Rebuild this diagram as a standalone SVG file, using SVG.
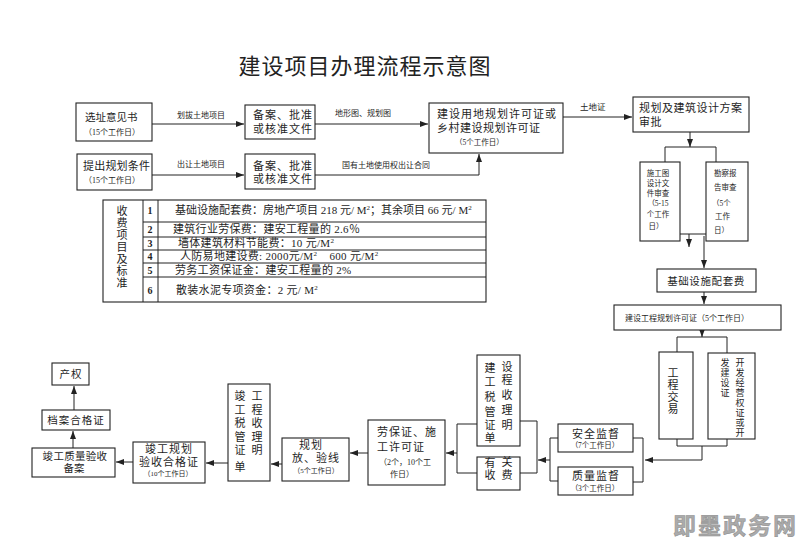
<svg xmlns="http://www.w3.org/2000/svg" width="800" height="542" viewBox="0 0 800 542">
<style>
text{font-family:"Liberation Serif","Noto Sans CJK SC",sans-serif;fill:#1e1e1e}
.b{fill:#fff;stroke:#222;stroke-width:1.1}
.c{fill:none;stroke:#222;stroke-width:1}
.c path{fill:none}
.m{font-size:11px;letter-spacing:1px}
.s{font-size:10.5px}
.r{font-size:11px;letter-spacing:0.3px}
.l{font-size:8px}
.d{font-size:7.5px}
.v{font-size:11px;text-anchor:middle}
.mid{text-anchor:middle}
.n{font-size:10px;font-weight:bold;text-anchor:middle}
.sup{font-size:7px}
.ttl{font-family:"Noto Sans CJK SC",sans-serif;font-size:22px;letter-spacing:1px;fill:#222}
.wm{font-family:"Noto Sans CJK SC",sans-serif;font-size:23px;font-weight:bold;fill:#ababab;stroke:#8a8a8a;stroke-width:0.5;letter-spacing:2px}
</style>
<defs>
<marker id="a" viewBox="0 0 8 6" refX="8" refY="3" markerWidth="8" markerHeight="6" markerUnits="userSpaceOnUse" orient="auto">
<path d="M0,0 L8,3 L0,6 Z" fill="#222"/>
</marker>
</defs>
<rect width="800" height="542" fill="#fff"/>
<text class="ttl" x="365" y="74" text-anchor="middle">建设项目办理流程示意图</text>

<g id="connectors" class="c">
<path d="M152,124 H244" marker-end="url(#a)"/>
<path d="M152,175 H244" marker-end="url(#a)"/>
<path d="M315,124 H428" marker-end="url(#a)"/>
<path d="M315,175 H479 V154" marker-end="url(#a)"/>
<path d="M563,117 H632" marker-end="url(#a)"/>
<path d="M690,132 V147" marker-end="url(#a)"/>
<path d="M665,162 V147 H716 V162"/>
<path d="M672,226 V234 H720 V226"/>
<path d="M689,234 V247" marker-end="url(#a)"/>
<path d="M704,236 V268" marker-end="url(#a)"/>
<path d="M704,292 V304" marker-end="url(#a)"/>
<path d="M702,330 V337" marker-end="url(#a)"/>
<path d="M677,352 V337 H727 V353"/>
<path d="M677,439 V446 H727 V439"/>
<path d="M702,446 V460 H645" marker-end="url(#a)"/>
<path d="M633,438 H643 V482 H633"/>
<path d="M558,438 H550 V481 H558"/>
<path d="M550,460 H538" marker-end="url(#a)"/>
<path d="M520,421 H537 V473 H520"/>
<path d="M477,424 H457 V473 H477"/>
<path d="M457,453 H446" marker-end="url(#a)"/>
<path d="M368,453 H350" marker-end="url(#a)"/>
<path d="M282,464 H271" marker-end="url(#a)"/>
<path d="M228,463 H206" marker-end="url(#a)"/>
<path d="M133,462 H116" marker-end="url(#a)"/>
<path d="M73,448 V431" marker-end="url(#a)"/>
<path d="M74,410 V386" marker-end="url(#a)"/>
</g>

<g id="labels">
<text class="l" x="177" y="118">划拔土地项目</text>
<text class="l" x="177" y="167">出让土地项目</text>
<text class="l" x="335" y="116">地形图、规划图</text>
<text class="l" x="342" y="168">国有土地使用权出让合同</text>
<text class="l" x="580" y="110" style="font-size:8.5px">土地证</text>
</g>

<g id="n1"><rect class="b" x="76" y="103" width="76" height="38"/>
<text class="s" x="85" y="121">选址意见书</text>
<text class="l" x="84" y="135">（15个工作日）</text></g>

<g id="n2"><rect class="b" x="245" y="105" width="70" height="34"/>
<text class="m" x="253" y="119">备案、批准</text>
<text class="m" x="253" y="133">或核准文件</text></g>

<g id="n3"><rect class="b" x="77" y="154" width="75" height="36"/>
<text class="m" x="83" y="170" style="letter-spacing:0.2px">提出规划条件</text>
<text class="l" x="84" y="183">（15个工作日）</text></g>

<g id="n4"><rect class="b" x="245" y="154" width="70" height="35"/>
<text class="m" x="253" y="170">备案、批准</text>
<text class="m" x="253" y="183">或核准文件</text></g>

<g id="n5"><rect class="b" x="429" y="103" width="134" height="50"/>
<text class="m" x="437" y="118">建设用地规划许可证或</text>
<text class="m" x="437" y="132" style="letter-spacing:0.5px">乡村建设规划许可证</text>
<text class="d" x="455" y="145">（5个工作日）</text></g>

<g id="n6"><rect class="b" x="633" y="97" width="116" height="35"/>
<text class="m" x="639" y="112" style="letter-spacing:0.5px">规划及建筑设计方案</text>
<text class="m" x="639" y="126" style="letter-spacing:0.5px">审批</text></g>

<g id="n7"><rect class="b" x="640" y="162" width="40" height="79"/>
<text class="d mid" x="658"><tspan x="658" y="176">施工图</tspan><tspan x="658" y="186">设计文</tspan><tspan x="658" y="196">件审查</tspan><tspan x="658" y="206">（5-15</tspan><tspan x="658" y="217">个工作</tspan><tspan x="656" y="229">日）</tspan></text></g>

<g id="n8"><rect class="b" x="706" y="162" width="42" height="79"/>
<text class="d" x="714"><tspan x="714" y="176">勘察报</tspan><tspan x="714" y="190">告审查</tspan><tspan x="712" y="206">（5个</tspan><tspan x="715" y="219">工作</tspan><tspan x="714" y="233">日）</tspan></text></g>

<g id="fees">
<rect class="b" x="103" y="200" width="383" height="102"/>
<path class="c" d="M143,200 V302 M158,200 V302 M143,222 H486 M143,237 H486 M143,250 H486 M143,263 H486 M143,277 H486"/>
<text class="v" x="122"><tspan x="122" y="215">收</tspan><tspan x="122" y="227">费</tspan><tspan x="122" y="239">项</tspan><tspan x="122" y="251">目</tspan><tspan x="122" y="263">及</tspan><tspan x="122" y="275">标</tspan><tspan x="122" y="287">准</tspan></text>
<text class="n" x="150" y="214">1</text>
<text class="n" x="150" y="233">2</text>
<text class="n" x="150" y="247">3</text>
<text class="n" x="150" y="260">4</text>
<text class="n" x="150" y="274">5</text>
<text class="n" x="150" y="294">6</text>
<text class="r" x="175" y="214" style="letter-spacing:0">基础设施配套费：房地产项目 218 元/ M<tspan class="sup" dy="-4">2</tspan><tspan dy="4">；其余项目 66 元/ M</tspan><tspan class="sup" dy="-4">2</tspan></text>
<text class="r" x="173" y="233">建筑行业劳保费：建安工程量的 2.6％</text>
<text class="r" x="178" y="247">墙体建筑材料节能费：10 元/M<tspan class="sup" dy="-4">2</tspan></text>
<text class="r" x="180" y="260">人防易地建设费: 2000元/M<tspan class="sup" dy="-4">2</tspan><tspan dy="4">&#160;&#160;&#160;&#160;600 元/M</tspan><tspan class="sup" dy="-4">2</tspan></text>
<text class="r" x="175" y="274">劳务工资保证金：建安工程量的 2%</text>
<text class="r" x="176" y="294">散装水泥专项资金：2 元/ M<tspan class="sup" dy="-4">2</tspan></text>
</g>

<g id="n9"><rect class="b" x="657" y="269" width="99" height="23"/>
<text class="s mid" x="706" y="285" style="letter-spacing:0.6px">基础设施配套费</text></g>

<g id="n10"><rect class="b" x="614" y="305" width="167" height="25"/>
<text class="l" x="625" y="321">建设工程规划许可证（5个工作日）</text></g>

<g id="n11"><rect class="b" x="659" y="352" width="34" height="87"/>
<text class="v" x="673"><tspan x="673" y="377">工</tspan><tspan x="673" y="389">程</tspan><tspan x="673" y="401">交</tspan><tspan x="673" y="413">易</tspan></text></g>

<g id="n12"><rect class="b" x="708" y="353" width="47" height="86"/>
<text class="v" style="font-size:9px" x="740"><tspan x="740" y="366">开</tspan><tspan x="740" y="376">发</tspan><tspan x="740" y="386">经</tspan><tspan x="740" y="396">营</tspan><tspan x="740" y="406">权</tspan><tspan x="740" y="416">证</tspan><tspan x="740" y="426">或</tspan><tspan x="740" y="436">开</tspan></text>
<text class="v" style="font-size:9px" x="725"><tspan x="725" y="366">发</tspan><tspan x="725" y="376">建</tspan><tspan x="725" y="386">设</tspan><tspan x="725" y="396">证</tspan></text></g>

<g id="n13"><rect class="b" x="558" y="424" width="75" height="28"/>
<text class="m mid" x="596" y="438">安全监督</text>
<text class="d mid" x="595" y="448">（7个工作日）</text></g>

<g id="n14"><rect class="b" x="558" y="467" width="75" height="28"/>
<text class="m mid" x="596" y="480">质量监督</text>
<text class="d mid" x="595" y="491">（3个工作日）</text></g>

<g id="n15"><rect class="b" x="477" y="355" width="43" height="91"/>
<text class="v" x="490"><tspan x="490" y="372">建</tspan><tspan x="490" y="386">工</tspan><tspan x="490" y="401">税</tspan><tspan x="490" y="416">管</tspan><tspan x="490" y="429">证</tspan><tspan x="490" y="442">单</tspan></text>
<text class="v" x="507"><tspan x="507" y="371">设</tspan><tspan x="507" y="384">程</tspan><tspan x="507" y="399">收</tspan><tspan x="507" y="414">理</tspan><tspan x="507" y="429">明</tspan></text></g>

<g id="n16"><rect class="b" x="477" y="457" width="43" height="33"/>
<text class="v" x="490"><tspan x="490" y="467">有</tspan><tspan x="490" y="479">收</tspan></text>
<text class="v" x="507"><tspan x="507" y="466">关</tspan><tspan x="507" y="479">费</tspan></text></g>

<g id="n17"><rect class="b" x="368" y="420" width="77" height="65"/>
<text class="m" x="377" y="436">劳保证、施</text>
<text class="m" x="377" y="451">工许可证</text>
<text class="l mid" x="405" y="465">（2个，10个工</text>
<text class="l mid" x="402" y="477">作日）</text></g>

<g id="n18"><rect class="b" x="282" y="438" width="67" height="43"/>
<text class="m mid" x="311" y="449">规划</text>
<text class="m" x="292" y="462">放、验线</text>
<text class="d mid" x="316" y="473" style="font-size:7px">（5个工作日）</text></g>

<g id="n19"><rect class="b" x="228" y="384" width="42" height="97"/>
<text class="v" x="240"><tspan x="240" y="400">竣</tspan><tspan x="240" y="414">工</tspan><tspan x="240" y="427">税</tspan><tspan x="240" y="441">管</tspan><tspan x="240" y="454">证</tspan><tspan x="240" y="471">单</tspan></text>
<text class="v" x="257"><tspan x="257" y="400">工</tspan><tspan x="257" y="414">程</tspan><tspan x="257" y="427">收</tspan><tspan x="257" y="441">理</tspan><tspan x="257" y="454">明</tspan></text></g>

<g id="n20"><rect class="b" x="133" y="442" width="72" height="41"/>
<text class="m mid" x="169" y="453">竣工规划</text>
<text class="m mid" x="169" y="466">验收合格证</text>
<text class="mid" x="168" y="476" style="font-size:7px">（10个工作日）</text></g>

<g id="n21"><rect class="b" x="32" y="448" width="83" height="29"/>
<text class="s mid" x="75" y="460" style="letter-spacing:0.3px">竣工质量验收</text>
<text class="s mid" x="74" y="472">备案</text></g>

<g id="n22"><rect class="b" x="42" y="410" width="68" height="20"/>
<text class="s mid" x="76" y="424" style="letter-spacing:1px">档案合格证</text></g>

<g id="n23"><rect class="b" x="52" y="363" width="37" height="22"/>
<text class="s mid" x="71" y="378" style="letter-spacing:1px">产权</text></g>

<text class="wm" x="673" y="534">即墨政务网</text>
</svg>
